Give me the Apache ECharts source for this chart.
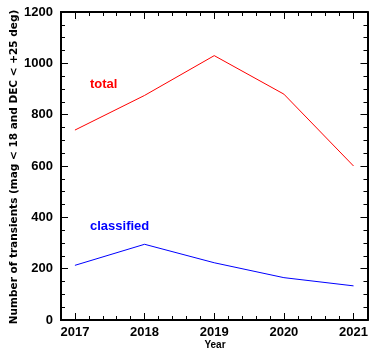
<!DOCTYPE html>
<html>
<head>
<meta charset="utf-8">
<script src="https://cdn.jsdelivr.net/npm/echarts@6/dist/echarts.min.js"></script>
<style>
  html, body { margin: 0; padding: 0; background: #fff; }
  #chart { width: 371px; height: 349px; }
</style>
</head>
<body>
<div id="chart"></div>
<script>
// Transients per year (mag < 18, DEC < +25 deg)
const years = [2017, 2018, 2019, 2020, 2021];
const totalCounts = [740, 875, 1030, 880, 600];
const classifiedCounts = [213, 295, 223, 165, 133];
const yTicks = [0, 200, 400, 600, 800, 1000, 1200];

const xMin = 2016.8, xMax = 2021.2;
const FONT = '"Liberation Sans", Arial, sans-serif';

// minor tick positions every 0.2 yr between the year ticks
const xMinor = [];
for (let i = 1; i < 22; i++) {
  const v = Math.round((xMin + i * 0.2) * 10) / 10;
  if (Math.abs(v - Math.round(v)) > 1e-6) xMinor.push(v);
}

function xAxisDef(position, major, showLabel) {
  return {
    type: 'value', position: position, min: xMin, max: xMax,
    axisLine: { show: true, lineStyle: { color: '#000', width: 2 } },
    axisTick: { show: true, inside: true, length: major ? 7 : 4,
      customValues: major ? years : xMinor, lineStyle: { color: '#000', width: 1 } },
    axisLabel: { show: showLabel, customValues: years, margin: 6,
      fontFamily: FONT, fontSize: 13, fontWeight: 'bold', color: '#000',
      formatter: v => String(v) },
    splitLine: { show: false }
  };
}

function yAxisDef(position, showLabel) {
  return {
    type: 'value', position: position, min: 0, max: 1200, interval: 200,
    axisLine: { show: true, lineStyle: { color: '#000', width: 2 } },
    axisTick: { show: true, inside: true, length: 7, lineStyle: { color: '#000', width: 1 } },
    minorTick: { show: true, splitNumber: 4, length: 4, lineStyle: { color: '#000', width: 1 } },
    axisLabel: { show: showLabel, margin: 8, fontFamily: FONT, fontSize: 13,
      fontWeight: 'bold', color: '#000', formatter: v => String(v) },
    splitLine: { show: false },
    minorSplitLine: { show: false }
  };
}

const chart = echarts.init(document.getElementById('chart'));
chart.setOption({
  animation: false,
  backgroundColor: '#fff',
  grid: { left: 61, right: 1, top: 12, bottom: 29 },
  xAxis: [
    xAxisDef('bottom', true, true),
    xAxisDef('bottom', false, false),
    xAxisDef('top', true, false),
    xAxisDef('top', false, false)
  ],
  yAxis: [
    yAxisDef('left', true),
    yAxisDef('right', false)
  ],
  series: [
    {
      name: 'total', type: 'line', xAxisIndex: 0, yAxisIndex: 0,
      data: years.map((y, i) => [y, totalCounts[i]]),
      showSymbol: false, lineStyle: { color: '#ff0000', width: 1 }
    },
    {
      name: 'classified', type: 'line', xAxisIndex: 0, yAxisIndex: 0,
      data: years.map((y, i) => [y, classifiedCounts[i]]),
      showSymbol: false, lineStyle: { color: '#0000ff', width: 1 }
    }
  ],
  graphic: [
    { type: 'text', left: 90, top: 78,
      style: { text: 'total', fill: '#ff0000', font: 'bold 13px ' + FONT } },
    { type: 'text', left: 90, top: 220,
      style: { text: 'classified', fill: '#0000ff', font: 'bold 13px ' + FONT } },
    { type: 'text', x: 215, y: 345,
      style: { text: 'Year', fill: '#000', font: 'bold 10px ' + FONT,
        align: 'center', verticalAlign: 'middle' } },
    { type: 'text', x: 14, y: 167, rotation: Math.PI / 2,
      style: { text: 'Number of transients (mag < 18 and DEC < +25 deg)', fill: '#000',
        font: 'bold 10.5px "DejaVu Sans", sans-serif', align: 'center', verticalAlign: 'middle' } }
  ]
});
</script>
</body>
</html>
